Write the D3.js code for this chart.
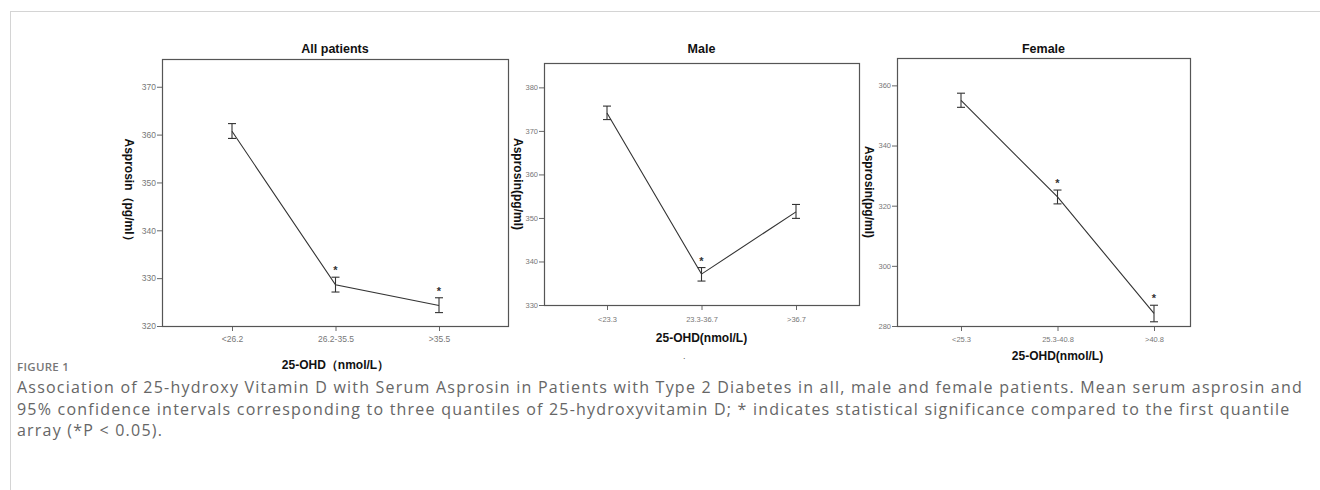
<!DOCTYPE html>
<html>
<head>
<meta charset="utf-8">
<script src="https://cdn.jsdelivr.net/npm/d3@7"></script>
<style>
  body { margin: 0; background: #fff; }
  svg { display: block; }
</style>
</head>
<body>
<div id="chart"></div>
<script>
// Data
const titles = ["All patients", "Male", "Female"];

const catsAll = ["<26.2", "26.2-35.5", ">35.5"];
const meanAll = [360.7, 328.6, 324.3];
const lowAll  = [359.2, 327.1, 322.8];
const highAll = [362.3, 330.2, 325.9];
const sigAll  = [false, true, true];

const catsMale = ["<23.3", "23.3-36.7", ">36.7"];
const meanMale = [374.1, 337.1, 351.4];
const lowMale  = [372.6, 335.5, 349.9];
const highMale = [375.7, 338.6, 353.1];
const sigMale  = [false, true, false];

const catsFemale = ["<25.3", "25.3-40.8", ">40.8"];
const meanFemale = [355.0, 322.9, 284.2];
const lowFemale  = [352.7, 320.6, 281.4];
const highFemale = [357.4, 325.2, 286.9];
const sigFemale  = [false, true, true];

const ticksAll = [320, 330, 340, 350, 360, 370];
const ticksMale = [330, 340, 350, 360, 370, 380];
const ticksFemale = [280, 300, 320, 340, 360];

const yTitles = ["Asprosin\uFF08pg/ml\uFF09", "Asprosin(pg/ml)", "Asprosin(pg/ml)"];
const xTitles = ["25-OHD\uFF08nmol/L\uFF09", "25-OHD(nmol/L)", "25-OHD(nmol/L)"];

const caption = [
  "Association of 25-hydroxy Vitamin D with Serum Asprosin in Patients with Type 2 Diabetes in all, male and female patients. Mean serum asprosin and",
  "95% confidence intervals corresponding to three quantiles of 25-hydroxyvitamin D; * indicates statistical significance compared to the first quantile",
  "array (*P < 0.05)."
];

// Layout of the three panels
const layout = [
  { x0: 162, x1: 508, y0: 59, y1: 326, px0: 232, px1: 439, ymin: 320, ymax: 375.8,
    yTitleX: 129, xTickY: 339, xTitleY: 369, tickFont: 8.5 },
  { x0: 544, x1: 859, y0: 63, y1: 305, px0: 607, px1: 796, ymin: 330, ymax: 385.6,
    yTitleX: 518, xTickY: 319, xTitleY: 342, tickFont: 7.5 },
  { x0: 897, x1: 1190, y0: 58, y1: 326, px0: 961, px1: 1154, ymin: 280, ymax: 369.1,
    yTitleX: 869, xTickY: 339, xTitleY: 360, tickFont: 7.5 }
];

const panels = [
  { cats: catsAll, mean: meanAll, low: lowAll, high: highAll, sig: sigAll, ticks: ticksAll },
  { cats: catsMale, mean: meanMale, low: lowMale, high: highMale, sig: sigMale, ticks: ticksMale },
  { cats: catsFemale, mean: meanFemale, low: lowFemale, high: highFemale, sig: sigFemale, ticks: ticksFemale }
];

const W = 1320, H = 490;
const svg = d3.select("#chart").append("svg")
  .attr("width", W).attr("height", H);

// outer frame
svg.append("rect")
  .attr("x", 10.5).attr("y", 11.5)
  .attr("width", W + 20).attr("height", H + 20)
  .attr("fill", "none").attr("stroke", "#d4d4d4");

const narrow = "'Liberation Sans Narrow', 'Arial Narrow', 'Liberation Sans', Arial, sans-serif";
const sans = "'Liberation Sans', Arial, sans-serif";

function drawPanel(p, L, title, yTitle, xTitle) {
  const x = d3.scalePoint().domain(p.cats).range([L.px0, L.px1]);
  const y = d3.scaleLinear().domain([L.ymin, L.ymax]).range([L.y1, L.y0]);
  const g = svg.append("g");

  // y axis
  const yAxis = g.append("g")
    .attr("transform", `translate(${L.x0},0)`)
    .call(d3.axisLeft(y).tickValues(p.ticks).tickSize(5).tickPadding(1));
  yAxis.select(".domain").remove();
  yAxis.selectAll("line").attr("stroke", "#666");
  yAxis.selectAll("text").attr("font-family", narrow).attr("font-size", L.tickFont).attr("fill", "#777");

  // x axis
  const xAxis = g.append("g")
    .attr("transform", `translate(0,${L.y1})`)
    .call(d3.axisBottom(x).tickSize(5).tickPadding(4));
  xAxis.select(".domain").remove();
  xAxis.selectAll("line").attr("stroke", "#666");
  xAxis.selectAll("text")
    .attr("y", L.xTickY - L.y1).attr("dy", "0.35em")
    .attr("font-family", narrow).attr("font-size", L.tickFont).attr("fill", "#777");

  // plot frame
  g.append("rect")
    .attr("x", L.x0 + 0.5).attr("y", L.y0 + 0.5)
    .attr("width", L.x1 - L.x0).attr("height", L.y1 - L.y0)
    .attr("fill", "none").attr("stroke", "#555").attr("stroke-width", 1.2);

  const pts = p.cats.map((c, i) => ({ c, m: p.mean[i], lo: p.low[i], hi: p.high[i], s: p.sig[i] }));

  // mean line
  g.append("path")
    .datum(pts)
    .attr("fill", "none").attr("stroke", "#333").attr("stroke-width", 1.1)
    .attr("d", d3.line().x(d => x(d.c)).y(d => y(d.m)));

  // error bars
  const eb = g.selectAll(".eb").data(pts).enter().append("g")
    .attr("stroke", "#333").attr("stroke-width", 1.1);
  eb.append("line")
    .attr("x1", d => x(d.c)).attr("x2", d => x(d.c))
    .attr("y1", d => y(d.lo)).attr("y2", d => y(d.hi));
  eb.append("line")
    .attr("x1", d => x(d.c) - 4).attr("x2", d => x(d.c) + 4)
    .attr("y1", d => y(d.lo)).attr("y2", d => y(d.lo));
  eb.append("line")
    .attr("x1", d => x(d.c) - 4).attr("x2", d => x(d.c) + 4)
    .attr("y1", d => y(d.hi)).attr("y2", d => y(d.hi));

  // significance stars
  g.selectAll(".star").data(pts.filter(d => d.s)).enter().append("text")
    .attr("x", d => x(d.c)).attr("y", d => y(d.hi) - 3)
    .attr("text-anchor", "middle")
    .attr("font-family", sans).attr("font-size", 11).attr("font-weight", "bold")
    .attr("fill", "#333")
    .text("*");

  // titles
  const cx = (L.x0 + L.x1) / 2;
  g.append("text")
    .attr("x", cx).attr("y", 53)
    .attr("text-anchor", "middle")
    .attr("font-family", sans).attr("font-size", 12.5).attr("font-weight", "bold")
    .attr("fill", "#111")
    .text(title);

  g.append("text")
    .attr("transform", `translate(${L.yTitleX},${(L.y0 + L.y1) / 2}) rotate(90)`)
    .attr("text-anchor", "middle").attr("dy", "0.35em")
    .attr("font-family", sans).attr("font-size", 12).attr("font-weight", "bold")
    .attr("fill", "#111")
    .text(yTitle);

  g.append("text")
    .attr("x", x(p.cats[1])).attr("y", L.xTitleY)
    .attr("text-anchor", "middle")
    .attr("font-family", sans).attr("font-size", 12).attr("font-weight", "bold")
    .attr("fill", "#111")
    .text(xTitle);
}

panels.forEach((p, i) => drawPanel(p, layout[i], titles[i], yTitles[i], xTitles[i]));

// stray dot under the male panel
svg.append("text")
  .attr("x", 683).attr("y", 359)
  .attr("font-family", sans).attr("font-size", 9).attr("fill", "#555")
  .text(".");

// caption
const capFont = "'Open Sans', 'Noto Sans', sans-serif";
svg.append("text")
  .attr("x", 17).attr("y", 371)
  .attr("font-family", capFont).attr("font-size", 11.5).attr("font-weight", 600)
  .attr("letter-spacing", 0.3)
  .attr("fill", "#777")
  .text("FIGURE 1");

const capLines = svg.selectAll(".cap").data(caption).enter().append("text")
  .attr("x", 17).attr("y", (d, i) => 393 + i * 21.5)
  .attr("font-family", capFont).attr("font-size", 16)
  .attr("fill", "#666")
  .text(d => d);

// spread the caption so the first line ends where the figure's does
const first = capLines.node();
const natural = first.getComputedTextLength();
const spacing = (1286 - natural) / caption[0].length;
capLines.attr("letter-spacing", spacing);
</script>
</body>
</html>
